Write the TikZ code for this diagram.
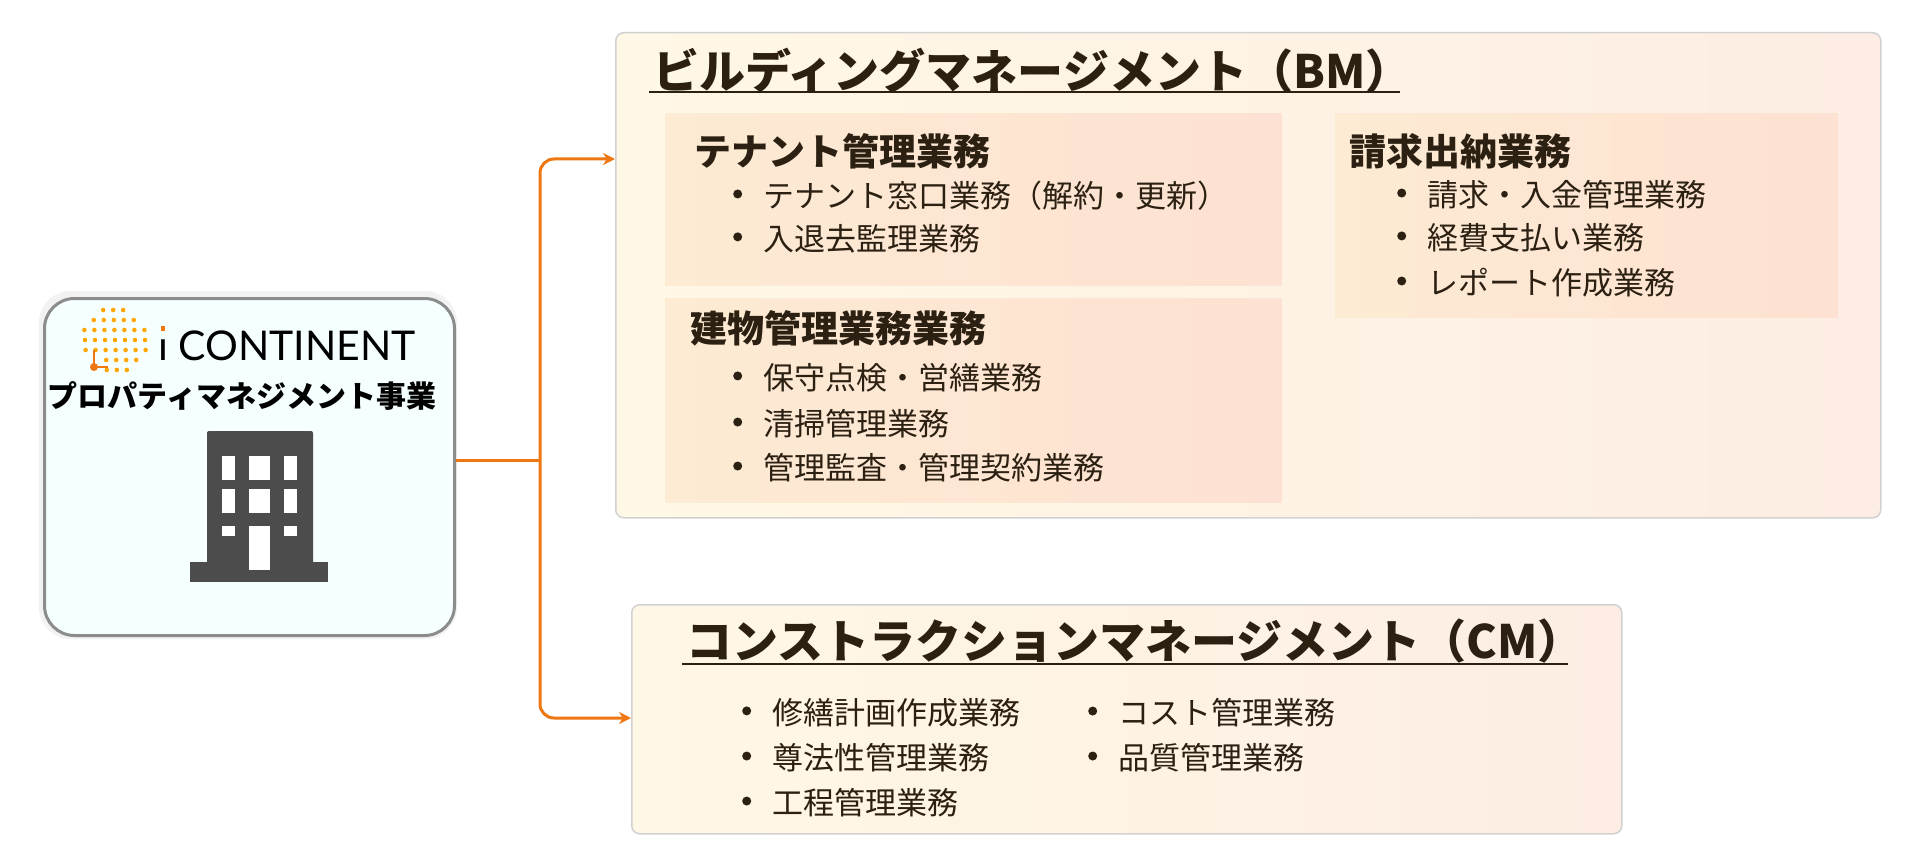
\documentclass[tikz,border=0pt]{standalone}
\usepackage{fontspec}
\setmainfont{Noto Sans CJK JP}
\newfontfamily\latofont{Lato}
\usetikzlibrary{arrows.meta}
\definecolor{txt}{HTML}{2B2012}
\definecolor{org}{HTML}{EE7711}
\definecolor{bmL}{HTML}{FFF8E6}
\definecolor{bmR}{HTML}{FDEDE4}
\definecolor{subL}{HTML}{FDEBD3}
\definecolor{subR}{HTML}{FDE1D2}
\tikzset{
 bigbox/.style={draw=black!18,line width=1.5pt,rounded corners=8pt,left color=bmL,right color=bmR},
 subbox/.style={left color=subL,right color=subR,draw=none},
 ttl/.style={font=\bfseries\fontsize{46}{50}\selectfont,text=txt,anchor=west,inner sep=0},
 sttl/.style={font=\bfseries\fontsize{37}{40}\selectfont,text=txt,anchor=west,inner sep=0},
 itm/.style={font=\fontsize{31}{34}\selectfont,text=txt,anchor=west,inner sep=0},
 conn/.style={draw=org,line width=3pt,rounded corners=14pt,-{Stealth[length=12pt,width=12pt]}},
 win/.style={fill=white,draw=none}
}
\newcommand{\bul}[1]{\makebox[30pt][l]{\raisebox{0.3em}{\tikz\fill[txt] (0,0) circle (4.5pt);}}#1}
\begin{document}
\begin{tikzpicture}[x=1pt,y=-1pt]
\useasboundingbox (0,0) rectangle (1920,864);
\fill[white] (0,0) rectangle (1920,864);
% left box
\fill[black!5,rounded corners=32pt] (39,291) rectangle (457,639);
\node[draw=black!45,line width=3pt,fill=blue!3!cyan!4,rounded corners=30pt,minimum width=410pt,minimum height=337pt,anchor=north west] (pm) at (43,297) {};
% logo dots
\foreach \i in {-3,...,3}{\foreach \j in {-3,...,3}{
  \pgfmathtruncatemacro{\ok}{((\i)^2+(\j)^2<12) && !((\i<-1) && (\j>1))}
  \ifnum\ok=1 \fill[orange!70!yellow] ({115+\i*10+0.6*\j},{340+\j*10}) circle (2.3pt);\fi
}}
\draw[org,line width=1.2pt] (94,350) -- (94,367) -- (108,367);
\fill[org] (94,367) circle (4pt);
\node[font=\latofont\fontsize{41}{44}\selectfont,anchor=west,inner sep=0] (logo) at (158,346) {ı CONTINENT};
\fill[org] (160.5,326) rectangle (164.5,331);
\node[font=\bfseries\fontsize{30}{32}\selectfont,inner sep=0] (pmt) at (242,396) {プロパティマネジメント事業};
% building
\fill[black!70,rounded corners=2pt] (207,431) rectangle (313,566);
\fill[black!70] (190,562) rectangle (328,582);
\foreach \x/\w in {222/13,249/21,284/13}{
 \fill[win] (\x,456) rectangle ++(\w,24);
 \fill[win] (\x,489) rectangle ++(\w,24);
}
\fill[win] (222,526) rectangle ++(13,10);
\fill[win] (284,526) rectangle ++(13,10);
\fill[win] (249,526) rectangle (270,570);
% BM
\node[bigbox,minimum width=1265pt,minimum height=485pt,anchor=north west] (bm) at (615,32) {};
\node[ttl] (bmt) at (653,71) {ビルディングマネージメント（BM）};
\draw[txt,line width=2.5pt] (649,92) -- (1400,92);
\node[subbox,minimum width=617pt,minimum height=172pt,anchor=north west] (ten) at (665,113) {};
\node[subbox,minimum width=617pt,minimum height=204pt,anchor=north west] (bld) at (665,298) {};
\node[subbox,minimum width=503pt,minimum height=204pt,anchor=north west] (bil) at (1335,113) {};
\node[sttl] (tent) at (694,151) {テナント管理業務};
\node[itm] (t1) at (733,196) {\bul{テナント窓口業務（解約・更新）}};
\node[itm] (t2) at (733,239) {\bul{入退去監理業務}};
\node[sttl] (bldt) at (690,328) {建物管理業務業務};
\node[itm] (b1) at (733,378) {\bul{保守点検・営繕業務}};
\node[itm] (b2) at (733,424) {\bul{清掃管理業務}};
\node[itm] (b3) at (733,468) {\bul{管理監査・管理契約業務}};
\node[sttl] (bilt) at (1349,151) {請求出納業務};
\node[itm] (c1) at (1397,195) {\bul{請求・入金管理業務}};
\node[itm] (c2) at (1397,238) {\bul{経費支払い業務}};
\node[itm] (c3) at (1397,283) {\bul{レポート作成業務}};
% CM
\node[bigbox,minimum width=990pt,minimum height=229pt,anchor=north west] (cm) at (631,604) {};
\node[ttl] (cmt) at (686,641) {コンストラクションマネージメント（CM）};
\draw[txt,line width=2.5pt] (682,664) -- (1568,664);
\node[itm] (m1) at (742,713) {\bul{修繕計画作成業務}};
\node[itm] (m2) at (742,758) {\bul{尊法性管理業務}};
\node[itm] (m3) at (742,803) {\bul{工程管理業務}};
\node[itm] (m4) at (1088,713) {\bul{コスト管理業務}};
\node[itm] (m5) at (1088,758) {\bul{品質管理業務}};
% connectors
\coordinate (j) at (540,460);
\draw[draw=org,line width=3pt] (pm.east |- j) -- (j);
\draw[conn] (j) -- (540,159) -- (bm.west |- 0,159);
\draw[conn] (j) -- (540,718) -- (cm.west |- 0,718);
\end{tikzpicture}
\end{document}
